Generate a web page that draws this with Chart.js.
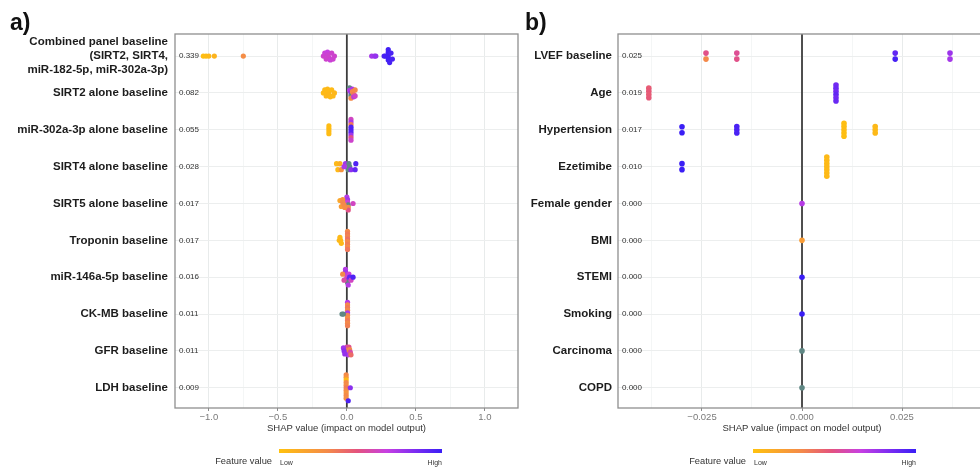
<!DOCTYPE html>
<html>
<head>
<meta charset="utf-8">
<script src="https://cdn.jsdelivr.net/npm/chart.js@4.4.1/dist/chart.umd.min.js"></script>
<style>
  html, body { margin: 0; padding: 0; background: #fff; overflow: hidden; }
  body { width: 980px; height: 468px; position: relative; }
  canvas { position: absolute; top: 0; }
  #chartA { left: 0; }
  #chartB { left: 520px; }
</style>
</head>
<body>
<canvas id="chartA" width="525" height="468"></canvas>
<canvas id="chartB" width="470" height="468"></canvas>
<script>
// ---- panel a: biomarker baselines ----
const featuresA = [
  ["Combined panel baseline", "(SIRT2, SIRT4,", "miR-182-5p, miR-302a-3p)"],
  "SIRT2 alone baseline",
  "miR-302a-3p alone baseline",
  "SIRT4 alone baseline",
  "SIRT5 alone baseline",
  "Troponin baseline",
  "miR-146a-5p baseline",
  "CK-MB baseline",
  "GFR baseline",
  "LDH baseline"
];
const importanceA = [0.339, 0.082, 0.055, 0.028, 0.017, 0.017, 0.016, 0.011, 0.011, 0.009];

// SHAP values per feature row
const shapA = [
  [-1.04, -1.02, -1.0, -0.96, -0.75, -0.17, -0.16, -0.15, -0.14, -0.14, -0.13, -0.12, -0.11, -0.1, -0.09, 0.18, 0.2, 0.21, 0.27, 0.28, 0.3, 0.3, 0.3, 0.3, 0.3, 0.31, 0.32, 0.33],
  [-0.17, -0.16, -0.15, -0.15, -0.14, -0.13, -0.13, -0.12, -0.11, -0.1, -0.09, 0.02, 0.02, 0.03, 0.03, 0.03, 0.04, 0.04, 0.05, 0.05, 0.06, 0.06],
  [-0.13, -0.13, -0.13, -0.13, 0.03, 0.03, 0.03, 0.03, 0.03, 0.03, 0.03, 0.03, 0.03],
  [-0.075, -0.065, -0.05, -0.04, -0.02, -0.01, -0.005, 0.01, 0.015, 0.02, 0.03, 0.065, 0.06],
  [-0.05, -0.04, -0.03, -0.03, -0.02, -0.015, 0.0, 0.005, 0.005, 0.01, 0.01, 0.01, 0.045],
  [-0.055, -0.05, -0.045, -0.04, 0.005, 0.005, 0.005, 0.005, 0.005, 0.005, 0.005, 0.005],
  [-0.03, -0.02, -0.01, -0.01, 0.0, 0.0, 0.005, 0.005, 0.01, 0.015, 0.02, 0.03, 0.045],
  [-0.035, -0.025, 0.005, 0.005, 0.005, 0.005, 0.005, 0.005, 0.005, 0.005, 0.005, 0.005],
  [-0.025, -0.02, -0.015, 0.0, 0.005, 0.01, 0.01, 0.015, 0.02, 0.025, 0.03],
  [-0.005, -0.005, -0.005, -0.005, -0.005, -0.005, -0.005, -0.005, -0.005, -0.005, 0.025, 0.01]
];
// feature values (0 = low, 1 = high, null = missing)
const valuesA = [
  [0.02, 0.03, 0.05, 0.08, 0.28, 0.62, 0.64, 0.62, 0.66, 0.63, 0.62, 0.64, 0.62, 0.63, 0.62, 0.74, 0.76, 0.78, 0.96, 0.97, 0.98, 0.98, 0.98, 0.98, 0.98, 0.97, 0.96, 0.96],
  [0.04, 0.05, 0.04, 0.06, 0.05, 0.04, 0.06, 0.05, 0.04, 0.05, 0.06, null, 0.7, 0.8, null, 0.3, 0.72, 0.3, 0.35, 0.7, 0.3, 0.6],
  [0.03, 0.03, 0.04, 0.03, 0.6, 0.72, 0.35, 0.95, 0.95, 0.92, 0.75, 0.5, 0.62],
  [0.05, 0.05, 0.1, 0.25, 0.72, 0.75, 0.7, null, null, null, 0.8, 0.95, 0.9],
  [0.15, 0.2, 0.25, 0.3, 0.3, 0.28, 0.7, 0.75, 0.65, null, 0.3, 0.5, 0.6],
  [0.05, 0.05, 0.06, 0.05, 0.3, 0.35, 0.32, 0.38, 0.3, 0.34, 0.3, 0.36],
  [0.3, 0.55, 0.7, 0.75, 0.72, 0.6, 0.8, null, 0.7, 0.65, 0.9, 0.6, 0.95],
  [null, null, 0.7, 0.3, 0.35, 0.3, 0.72, 0.32, 0.28, 0.35, 0.3, 0.33],
  [0.75, 0.8, 0.78, 0.55, 0.3, 0.35, 0.7, 0.5, 0.3, 0.55, 0.4],
  [0.3, 0.25, 0.05, 0.3, 0.28, 0.35, 0.3, 0.25, 0.3, 0.28, 0.8, 0.95]
];
const xTicksA = [-1, -0.5, 0, 0.5, 1];
const xTickLabelsA = ["\u22121.0", "\u22120.5", "0.0", "0.5", "1.0"];

// ---- panel b: clinical variables ----
const featuresB = ["LVEF baseline", "Age", "Hypertension", "Ezetimibe", "Female gender", "BMI", "STEMI", "Smoking", "Carcinoma", "COPD"];
const importanceB = [0.025, 0.019, 0.017, 0.010, 0.000, 0.000, 0.000, 0.000, 0.000, 0.000];
const shapB = [
  [-0.024, -0.024, -0.0163, -0.0163, 0.0233, 0.0233, 0.037, 0.037],
  [-0.0383, -0.0383, -0.0383, -0.0383, 0.0085, 0.0085, 0.0085, 0.0085, 0.0085, 0.0085],
  [-0.03, -0.03, -0.0163, -0.0163, -0.0163, 0.0105, 0.0105, 0.0105, 0.0105, 0.0105, 0.0183, 0.0183, 0.0183],
  [-0.03, -0.03, 0.0062, 0.0062, 0.0062, 0.0062, 0.0062, 0.0062, 0.0062],
  [0],
  [0],
  [0],
  [0],
  [0],
  [0]
];
const valuesB = [
  [0.5, 0.3, 0.52, 0.5, 0.9, 0.97, 0.76, 0.74],
  [0.45, 0.46, 0.45, 0.46, 0.86, 0.88, 0.86, 0.9, 0.86, 0.88],
  [1, 1, 0.96, 0.96, 0.96, 0.02, 0.02, 0.03, 0.02, 0.02, 0.05, 0.05, 0.05],
  [1, 1, 0.05, 0.05, 0.04, 0.05, 0.05, 0.04, 0.05],
  [0.7],
  [0.2],
  [1],
  [1],
  [null],
  [null]
];
const xTicksB = [-0.025, 0, 0.025];
const xTickLabelsB = ["\u22120.025", "0.000", "0.025"];

// ---- shared look ----
Chart.defaults.font.family = '"Liberation Sans", Arial, Helvetica, sans-serif';
const FONT = '"Liberation Sans", Arial, Helvetica, sans-serif';
const Y_MIN = 0.4, Y_MAX = 10.55;
const PX_PER_ROW = 374 / (Y_MAX - Y_MIN);
const gradStops = [[0, "#FFC20E"], [0.3, "#F4894A"], [0.48, "#E4537E"], [0.66, "#C73FE2"], [0.84, "#7A2CF2"], [1, "#3A1EF5"]];
const NA_COLOR = "#5f8784";

function hexToRgb(h) {
  const n = parseInt(h.slice(1), 16);
  return [(n >> 16) & 255, (n >> 8) & 255, n & 255];
}

function colorFor(v) {
  if (v === null) return NA_COLOR;
  for (let i = 1; i < gradStops.length; i++) {
    const [t1, c1] = gradStops[i];
    const [t0, c0] = gradStops[i - 1];
    if (v <= t1) {
      const f = (v - t0) / (t1 - t0);
      const a = hexToRgb(c0), b = hexToRgb(c1);
      const m = a.map((x, k) => Math.round(x + (b[k] - x) * f));
      return `rgb(${m[0]},${m[1]},${m[2]})`;
    }
  }
  return gradStops[gradStops.length - 1][1];
}

// points falling in the same pixel bin are stacked, centred on the row
function swarm(shapRows, valueRows, pxPerX, stepPx, minSpanPx) {
  const pts = [];
  shapRows.forEach((xs, row) => {
    const bins = {};
    xs.forEach((x, i) => {
      const b = Math.round((x * pxPerX) / 3);
      (bins[b] = bins[b] || []).push(i);
    });
    Object.values(bins).forEach((idx) => {
      const n = idx.length;
      const step = n > 1 ? Math.max(stepPx, minSpanPx / (n - 1)) : 0;
      idx.forEach((i, k) => {
        const off = (k - (n - 1) / 2) * step;
        pts.push({ x: xs[i], y: row + 1 + off / PX_PER_ROW, v: valueRows[row][i] });
      });
    });
  });
  return pts;
}

function makePanel(cfg) {
  const pxPerX = cfg.plotWidth / (cfg.xMax - cfg.xMin);
  const pts = swarm(cfg.shap, cfg.values, pxPerX, cfg.step, cfg.minSpan);

  // grid ticks: labelled majors plus unlabelled minors halfway between
  const half = (cfg.xTicks[1] - cfg.xTicks[0]) / 2;
  const gridTicks = [];
  for (let v = cfg.xTicks[0] - half * 2; v <= cfg.xMax + 1e-9; v += half) {
    if (v < cfg.xMin - 1e-9) continue;
    const idx = cfg.xTicks.findIndex((t) => Math.abs(t - v) < 1e-9);
    gridTicks.push({ value: v, minor: idx < 0, label: idx < 0 ? "" : cfg.xTickLabels[idx] });
  }

  const frame = {
    id: "frame",
    beforeDatasetsDraw(chart) {
      const { ctx, chartArea: a, scales: { x, y } } = chart;
      const x0 = x.getPixelForValue(0);
      ctx.save();
      ctx.strokeStyle = "#3d3d3d";
      ctx.lineWidth = 1.8;
      ctx.beginPath();
      ctx.moveTo(x0, a.top);
      ctx.lineTo(x0, a.bottom);
      ctx.stroke();
      ctx.font = "8px " + FONT;
      ctx.fillStyle = "#333";
      ctx.textAlign = "left";
      ctx.textBaseline = "middle";
      cfg.importance.forEach((v, i) => ctx.fillText(v.toFixed(3), a.left + 4, y.getPixelForValue(i + 1)));
      ctx.restore();
    },
    afterDraw(chart) {
      const { ctx, chartArea: a } = chart;
      ctx.save();
      ctx.strokeStyle = "#8f8f8f";
      ctx.lineWidth = 1.3;
      ctx.strokeRect(a.left, a.top, a.right - a.left, a.bottom - a.top);

      ctx.fillStyle = "#111";
      ctx.font = "bold 23px " + FONT;
      ctx.textAlign = "left";
      ctx.textBaseline = "alphabetic";
      ctx.fillText(cfg.tag, cfg.tagX, 30);

      // colour bar legend
      const bx = cfg.legendX, bw = 163, by = 449;
      const g = ctx.createLinearGradient(bx, 0, bx + bw, 0);
      gradStops.forEach(([t, c]) => g.addColorStop(t, c));
      ctx.fillStyle = g;
      ctx.fillRect(bx, by, bw, 4);
      ctx.fillStyle = "#333";
      ctx.font = "9.3px " + FONT;
      ctx.textAlign = "right";
      ctx.textBaseline = "middle";
      ctx.fillText("Feature value", bx - 7, 461);
      ctx.font = "7px " + FONT;
      ctx.textAlign = "left";
      ctx.fillText("Low", bx + 1, 463);
      ctx.textAlign = "right";
      ctx.fillText("High", bx + bw, 463);
      ctx.restore();
    }
  };

  return new Chart(document.getElementById(cfg.id), {
    type: "scatter",
    data: {
      datasets: [{
        data: pts,
        pointRadius: cfg.radius,
        pointHoverRadius: cfg.radius,
        pointBorderWidth: 0,
        pointBorderColor: "rgba(0,0,0,0)",
        pointBackgroundColor: pts.map((p) => colorFor(p.v))
      }]
    },
    options: {
      responsive: false,
      animation: false,
      events: [],
      layout: { padding: { top: 34, bottom: 30, left: 0, right: cfg.padRight } },
      plugins: { legend: { display: false }, tooltip: { enabled: false } },
      scales: {
        x: {
          type: "linear",
          min: cfg.xMin,
          max: cfg.xMax,
          afterBuildTicks: (s) => { s.ticks = gridTicks.map((t) => ({ value: t.value, minor: t.minor, lbl: t.label })); },
          afterFit: (s) => { s.height = 30; },
          ticks: {
            autoSkip: false,
            maxRotation: 0,
            padding: 1,
            color: "#7a7a7a",
            font: { size: 9.5 },
            callback: (v, i, ticks) => ticks[i].lbl
          },
          grid: {
            color: (c) => (c.tick && c.tick.minor ? "#f4f6f6" : "#e8ebeb"),
            tickColor: (c) => (c.tick && c.tick.minor ? "rgba(0,0,0,0)" : "#8a8a8a"),
            tickLength: 3
          },
          border: { display: false },
          title: {
            display: true,
            text: "SHAP value (impact on model output)",
            color: "#333",
            font: { size: 9.5 },
            padding: { top: 0, bottom: 4 }
          }
        },
        y: {
          type: "linear",
          reverse: true,
          min: Y_MIN,
          max: Y_MAX,
          afterBuildTicks: (s) => { s.ticks = cfg.features.map((f, i) => ({ value: i + 1 })); },
          afterFit: (s) => { s.width = cfg.yAxisWidth; },
          ticks: {
            autoSkip: false,
            padding: cfg.labelPad,
            color: "#1c1c1c",
            font: { size: 11.5, weight: "bold" },
            callback: (v) => cfg.features[Math.round(v) - 1]
          },
          grid: { color: "#eceeee", drawTicks: false },
          border: { display: false }
        }
      }
    },
    plugins: [frame]
  });
}

makePanel({
  id: "chartA", tag: "a)", tagX: 10,
  features: featuresA, importance: importanceA, shap: shapA, values: valuesA,
  xMin: -1.245, xMax: 1.24, xTicks: xTicksA, xTickLabels: xTickLabelsA,
  plotWidth: 343, yAxisWidth: 175, padRight: 7, labelPad: 7,
  radius: 2.6, step: 2.6, minSpan: 6, legendX: 279
});

makePanel({
  id: "chartB", tag: "b)", tagX: 5,
  features: featuresB, importance: importanceB, shap: shapB, values: valuesB,
  xMin: -0.046, xMax: 0.046, xTicks: xTicksB, xTickLabels: xTickLabelsB,
  plotWidth: 368, yAxisWidth: 98, padRight: 4, labelPad: 6,
  radius: 2.8, step: 3.2, minSpan: 6, legendX: 233
});
</script>
</body>
</html>
